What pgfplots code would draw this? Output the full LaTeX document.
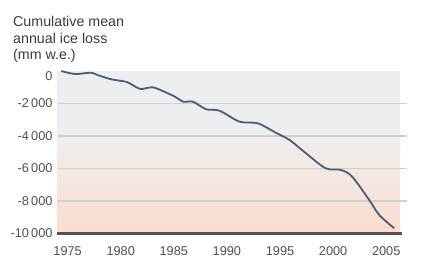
\documentclass[border=0pt]{standalone}
\usepackage{pgfplots}
\pgfplotsset{compat=1.18}
\usepackage{fontspec}
\setmainfont{Liberation Sans}
\definecolor{bgtop}{HTML}{EDEEF1}
\definecolor{bgmid}{HTML}{F2EAE6}
\definecolor{bgbot}{HTML}{FADCCF}
\definecolor{gridc}{HTML}{D0D0D0}
\definecolor{axc}{HTML}{5B524E}
\definecolor{linec}{HTML}{4E5C72}
\definecolor{txt}{HTML}{505050}
\definecolor{ttl}{HTML}{3A3A3A}
\begin{document}
\begin{tikzpicture}
\path[use as bounding box] (-57bp,-42.5bp) rectangle (373bp,233.5bp);
\begin{axis}[
  scale only axis,
  width=343bp, height=162.5bp,
  xmin=1974, xmax=2006.3,
  ymin=-10000, ymax=0,
  scaled y ticks=false,
  axis line style={draw=none},
  axis x line*=bottom,
  axis y line*=left,
  xtick={1975,1980,1985,1990,1995,2000,2005},
  ytick={-2000,-4000,-6000,-8000,-10000},
  yticklabels={-2\,000,-4\,000,-6\,000,-8\,000,-10\,000},
  extra y ticks={0},
  extra y tick labels={0},
  extra y tick style={yticklabel style={yshift=-5bp}},
  xticklabels={1975,1980,1985,1990,1995,2000,2005},
  major tick length=0pt,
  tick label style={font=\fontsize{12.8}{14}\selectfont, text=txt},
  yticklabel style={xshift=-1bp},
  xticklabel style={yshift=-10bp},
  clip=false,
]
\fill[bgtop] (axis cs:1974,-3500) rectangle (axis cs:2006.3,0);
\shade[top color=bgtop, bottom color=bgmid] (axis cs:1974,-5500) rectangle (axis cs:2006.3,-3500);
\shade[top color=bgmid, bottom color=bgbot] (axis cs:1974,-10000) rectangle (axis cs:2006.3,-5500);
\pgfplotsinvokeforeach{-2000,-4000,-6000,-8000}{
  \draw[gridc, line width=1.1bp] (axis cs:1974,#1) -- (axis cs:2007,#1);
}
\addplot[linec, line width=1.8bp, smooth, tension=0.5] coordinates {
(1974.4,0) (1975.7,-185) (1977.2,-105) (1977.8,-246) (1979.1,-510)
(1980.5,-660) (1981.1,-860) (1981.9,-1108) (1983.0,-1003) (1984.1,-1274)
(1985.1,-1580) (1985.9,-1890) (1986.8,-1890) (1988.05,-2357) (1989.3,-2443)
(1991.2,-3120) (1992.9,-3218) (1994.6,-3797) (1995.9,-4246) (1997.45,-5065)
(1999.3,-5988) (2000.75,-6092) (2001.8,-6505) (2003.4,-7938) (2004.35,-8862)
(2005.76,-9680)
};
\draw[axc, line width=2.2bp] (axis cs:1974,-10000) -- (axis cs:2006.5,-10000);
\end{axis}
\node[anchor=base west, inner sep=0pt, text=ttl, font=\fontsize{14.3}{16}\selectfont] at (-44bp,206.5bp) {Cumulative mean};
\node[anchor=base west, inner sep=0pt, text=ttl, font=\fontsize{14.3}{16}\selectfont] at (-44bp,190.2bp) {annual ice loss};
\node[anchor=base west, inner sep=0pt, text=ttl, font=\fontsize{14.3}{16}\selectfont] at (-44bp,174bp) {(mm w.e.)};
\end{tikzpicture}
\end{document}
